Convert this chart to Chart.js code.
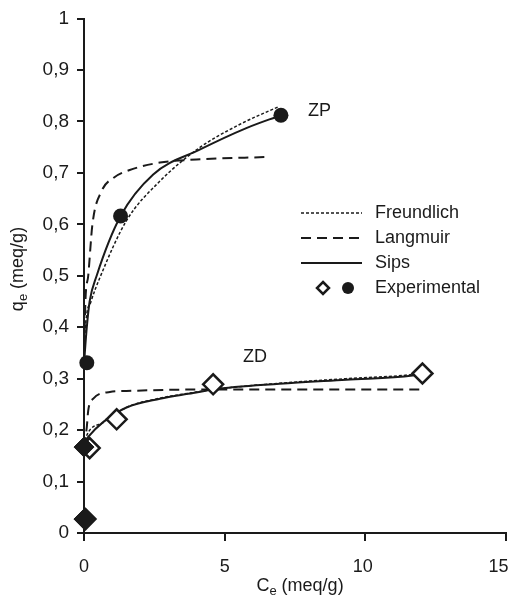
<!DOCTYPE html>
<html>
<head>
<meta charset="utf-8">
<script src="https://cdn.jsdelivr.net/npm/chart.js@4"></script>
<style>
  html, body { margin: 0; padding: 0; background: #fff; overflow: hidden; }
  #wrap { position: relative; width: 513px; height: 598px; overflow: hidden; }
</style>
</head>
<body>
<div id="wrap"><canvas id="chart" width="513" height="598"></canvas></div>
<script>
// Tick labels
const xTicks = [0, 5, 10, 15]
const yTicks = [0, 0.1, 0.2, 0.3, 0.4, 0.5, 0.6, 0.7, 0.8, 0.9, 1]

// Experimental points
const zpExpX = [0.1, 1.3, 7.0]
const zpExpY = [0.331, 0.616, 0.812]
const zdFilledX = [0, 0]
const zdFilledY = [0.027, 0.167]
const zdOpenX = [0.05, 0.2, 1.16, 4.59, 12.03]
const zdOpenY = [0.027, 0.165, 0.221, 0.289, 0.31]

// ZP model curves
const zpFreundX = [0, 0.05, 0.25, 0.57, 1.51, 2.7, 4.11, 5.53, 6.89]
const zpFreundY = [0.33, 0.4, 0.45, 0.497, 0.607, 0.684, 0.749, 0.794, 0.828]
const zpLangX = [0, 0.05, 0.15, 0.3, 0.63, 1.04, 1.6, 2.7, 4.0, 6.6]
const zpLangY = [0.33, 0.45, 0.5, 0.6, 0.665, 0.69, 0.705, 0.72, 0.726, 0.731]
const zpSipsX = [0, 0.1, 0.2, 0.45, 1.3, 2.46, 4.11, 5.77, 7.0]
const zpSipsY = [0.33, 0.4, 0.45, 0.5, 0.616, 0.697, 0.745, 0.787, 0.812]

// ZD model curves
const zdFreundX = [0, 0.1, 0.69, 1.51, 2.7, 3.88, 4.59, 6.95, 9.32, 11.68, 12.03]
const zdFreundY = [0.17, 0.19, 0.215, 0.244, 0.262, 0.273, 0.279, 0.291, 0.3, 0.308, 0.311]
const zdLangX = [0, 0.1, 0.15, 0.33, 0.92, 1.51, 4.47, 12.0]
const zdLangY = [0.167, 0.206, 0.238, 0.261, 0.274, 0.276, 0.279, 0.279]
const zdSipsX = [0, 0.15, 0.69, 1.51, 2.7, 3.88, 4.59, 6.95, 9.32, 11.68, 12.03]
const zdSipsY = [0.175, 0.187, 0.216, 0.244, 0.261, 0.272, 0.279, 0.29, 0.298, 0.306, 0.31]

const FONT = "'Liberation Sans', Arial, sans-serif"
const INK = "#1a1a1a"

function pts(xs, ys) {
  return xs.map((x, i) => ({ x: x, y: ys[i] }))
}

function curve(xs, ys, dash, width) {
  return {
    data: pts(xs, ys),
    showLine: true,
    borderColor: INK,
    borderWidth: width,
    borderDash: dash,
    pointRadius: 0,
    cubicInterpolationMode: "monotone",
    fill: false,
    order: 3,
  }
}

// Titles, labels and legend drawn on top
const decorations = {
  id: "decorations",
  afterDraw(chart) {
    const ctx = chart.ctx
    ctx.save()
    ctx.fillStyle = INK
    ctx.strokeStyle = INK

    // axis titles with subscript e
    function subText(main, sub, rest, cx, cy) {
      ctx.font = "18px " + FONT
      const w1 = ctx.measureText(main).width
      const w3 = ctx.measureText(rest).width
      ctx.font = "13px " + FONT
      const w2 = ctx.measureText(sub).width
      let x = cx - (w1 + w2 + w3) / 2
      ctx.textAlign = "left"
      ctx.textBaseline = "alphabetic"
      ctx.font = "18px " + FONT
      ctx.fillText(main, x, cy)
      x += w1
      ctx.font = "13px " + FONT
      ctx.fillText(sub, x, cy + 4)
      x += w2
      ctx.font = "18px " + FONT
      ctx.fillText(rest, x, cy)
    }
    subText("C", "e", " (meq/g)", 300, 591)
    ctx.save()
    ctx.translate(23, 269)
    ctx.rotate(-Math.PI / 2)
    subText("q", "e", " (meq/g)", 0, 0)
    ctx.restore()

    // series labels
    ctx.font = "18px " + FONT
    ctx.textAlign = "left"
    ctx.textBaseline = "middle"
    ctx.fillText("ZP", 308, 111)
    ctx.fillText("ZD", 243, 357)

    // legend
    const lx0 = 301, lx1 = 362, tx = 375
    const rows = [
      { y: 213, dash: [3, 2], w: 1.5, label: "Freundlich" },
      { y: 238, dash: [10, 6], w: 2, label: "Langmuir" },
      { y: 263, dash: [], w: 2, label: "Sips" },
    ]
    rows.forEach((r) => {
      ctx.beginPath()
      ctx.setLineDash(r.dash)
      ctx.lineWidth = r.w
      ctx.moveTo(lx0, r.y)
      ctx.lineTo(lx1, r.y)
      ctx.stroke()
      ctx.fillText(r.label, tx, r.y)
    })
    ctx.setLineDash([])
    const ey = 288
    ctx.beginPath()
    ctx.lineWidth = 2.5
    ctx.moveTo(323, ey - 6)
    ctx.lineTo(329, ey)
    ctx.lineTo(323, ey + 6)
    ctx.lineTo(317, ey)
    ctx.closePath()
    ctx.stroke()
    ctx.beginPath()
    ctx.arc(348, ey, 6, 0, Math.PI * 2)
    ctx.fill()
    ctx.fillText("Experimental", tx, ey)
    ctx.restore()
  },
}

new Chart(document.getElementById("chart"), {
  type: "scatter",
  data: {
    datasets: [
      {
        data: pts(zdFilledX, zdFilledY),
        pointStyle: "rectRot",
        pointRadius: 10,
        pointBorderWidth: 1,
        pointBackgroundColor: INK,
        pointBorderColor: INK,
        showLine: false,
        clip: false,
        order: 0,
      },
      {
        data: pts(zpExpX, zpExpY),
        pointStyle: "circle",
        pointRadius: 7.5,
        pointBorderWidth: 0,
        pointBackgroundColor: INK,
        showLine: false,
        clip: false,
        order: 1,
      },
      {
        data: pts(zdOpenX, zdOpenY),
        pointStyle: "rectRot",
        pointRadius: 10,
        pointBorderWidth: 2.5,
        pointBackgroundColor: "#fff",
        pointBorderColor: INK,
        showLine: false,
        clip: false,
        order: 2,
      },
      curve(zpFreundX, zpFreundY, [3, 2], 1.5),
      curve(zpLangX, zpLangY, [10, 6], 2),
      curve(zpSipsX, zpSipsY, [], 2),
      curve(zdFreundX, zdFreundY, [3, 2], 1.5),
      curve(zdLangX, zdLangY, [10, 6], 2),
      curve(zdSipsX, zdSipsY, [], 2),
    ],
  },
  options: {
    responsive: false,
    animation: false,
    events: [],
    layout: { autoPadding: false, padding: { top: 18.5, right: 7, left: 0, bottom: 0 } },
    plugins: {
      legend: { display: false },
      tooltip: { enabled: false },
    },
    scales: {
      x: {
        type: "linear",
        min: 0,
        max: 15,
        afterBuildTicks: (scale) => {
          scale.ticks = xTicks.map((v) => ({ value: v }))
        },
        afterFit: (scale) => {
          scale.height = 65
          scale.paddingLeft = 0
          scale.paddingRight = 0
        },
        grid: { display: true, drawOnChartArea: false, drawTicks: true, tickLength: 8, color: INK, lineWidth: 2 },
        border: { display: true, color: INK, width: 2 },
        ticks: {
          color: INK,
          font: { family: FONT, size: 18 },
          padding: 15,
          maxRotation: 0,
          // trailing spaces nudge the two-digit labels left, as in the original
          callback: (v) => (v === 15 ? "15   " : v === 10 ? "10 " : String(v)),
        },
      },
      y: {
        type: "linear",
        min: 0,
        max: 1,
        afterBuildTicks: (scale) => {
          scale.ticks = yTicks.map((v) => ({ value: v }))
        },
        afterFit: (scale) => {
          scale.width = 84
          scale.paddingTop = 0
          scale.paddingBottom = 0
        },
        grid: { display: true, drawOnChartArea: false, drawTicks: true, tickLength: 7, color: INK, lineWidth: 2 },
        border: { display: true, color: INK, width: 2 },
        ticks: {
          color: INK,
          font: { family: FONT, size: 19 },
          padding: 8,
          callback: (v) => (v === 0 || v === 1 ? String(v) : v.toFixed(1).replace(".", ",")),
        },
      },
    },
  },
  plugins: [decorations],
})
</script>
</body>
</html>
